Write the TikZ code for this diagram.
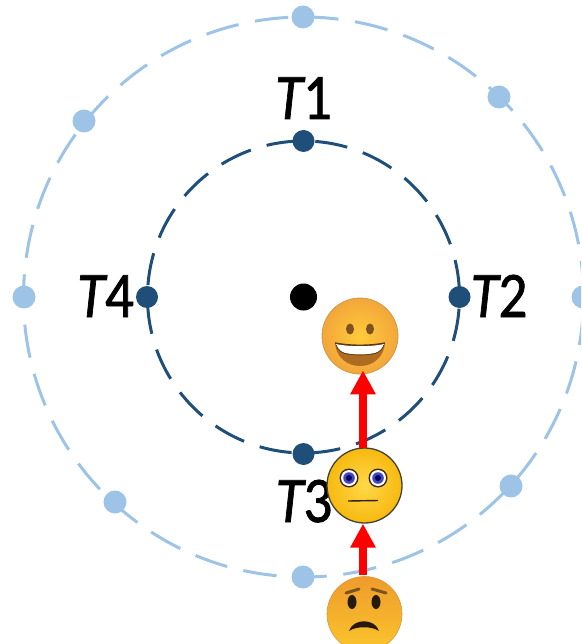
\documentclass[tikz,border=0pt]{standalone}
\usepackage{fontspec}
\setmainfont{Carlito}
\newfontface\labfont[FakeBold=1.2]{Carlito}
\newfontface\labitalic[FakeBold=1.2]{Carlito Italic}
\usetikzlibrary{arrows.meta}
\definecolor{lightring}{HTML}{9DC3E6}
\definecolor{darkring}{HTML}{1F4E79}
\definecolor{happyin}{HTML}{FFCB3A}
\definecolor{happyout}{HTML}{F2A63A}
\definecolor{neutralin}{HTML}{FFD84A}
\definecolor{neutralout}{HTML}{F7B90F}
\definecolor{sadtop}{HTML}{EE9C2C}
\definecolor{sadbot}{HTML}{FBC52C}
\definecolor{mouthbrown}{HTML}{AE6B22}
\definecolor{eyebrown}{HTML}{7E5220}
\tikzset{
  x=1pt,y=-1pt,
  outerring/.style={draw=lightring,line width=3pt,dash pattern=on 33.5pt off 16.75pt},
  innerring/.style={draw=darkring,line width=3pt,dash pattern=on 32.5pt off 16.5pt},
  lightdot/.style={circle,fill=lightring,minimum size=23pt,inner sep=0pt},
  darkdot/.style={circle,fill=darkring,minimum size=22pt,inner sep=0pt},
  centerdot/.style={circle,fill=black,minimum size=27pt,inner sep=0pt},
  lab/.style={inner sep=0pt,font=\fontsize{65}{65}\labfont,anchor=base,xscale=.88},
  happyface/.style={circle,minimum size=76pt,inner sep=0pt,draw=happyout!70!gray,line width=.8pt,inner color=happyin,outer color=happyout},
  neutralface/.style={circle,minimum size=75pt,inner sep=0pt,draw=black!85!yellow,line width=1.3pt,inner color=neutralin,outer color=neutralout},
  sadface/.style={circle,minimum size=75pt,inner sep=0pt,draw=sadtop!80!gray,line width=.6pt,top color=sadtop,bottom color=sadbot},
  redarrow/.style={draw=red,line width=8pt,-{Triangle[length=24pt,width=24pt,fill=red]}},
}
\begin{document}
\begin{tikzpicture}
\useasboundingbox (0,0) rectangle (581,644);
\clip (0,0) rectangle (581,644);
\coordinate (c) at (303.5,297);
\draw[outerring,rotate around={-3:(c)}] (c) circle (280);
\draw[innerring,rotate around={-4.4:(c)}] (c) circle (156);
\node[lightdot] (o1) at (303,17) {};
\node[lightdot] (o2) at (499,97) {};
\node[lightdot] (o3) at (583,297) {};
\node[lightdot] (o4) at (511,486) {};
\node[lightdot] (o5) at (303,577) {};
\node[lightdot] (o6) at (115,502) {};
\node[lightdot] (o7) at (24,297) {};
\node[lightdot] (o8) at (84,121) {};
\node[darkdot] (t1) at (303.5,141) {};
\node[darkdot] (t2) at (459.5,297) {};
\node[darkdot] (t3) at (303.5,454) {};
\node[darkdot] (t4) at (147,297) {};
\node[centerdot] (ctr) at (303.5,297) {};
\node[lab] (l1) at (303.5,119) {{\labitalic T}1};
\node[lab] (l2) at (499,317) {{\labitalic T}2};
\node[lab] (l3) at (304,522) {{\labitalic T}3};
\node[lab] (l4) at (105.5,317) {{\labitalic T}4};
% happy
\node[happyface] (happy) at (360,336) {};
\fill[eyebrown] (350,329) ellipse (4 and 5.5) (370,329) ellipse (4 and 5.5);
\fill[mouthbrown] (335,343) .. controls (350,346) and (370,346) .. (385,343) .. controls (384,357) and (373,366) .. (360,366) .. controls (347,366) and (336,357) .. (335,343) -- cycle;
\fill[white] (336,344) .. controls (350,347) and (370,347) .. (384,344) .. controls (382,350) and (379,352) .. (375,353) .. controls (365,355) and (355,355) .. (345,353) .. controls (341,352) and (338,350) .. (336,344) -- cycle;
\draw[eyebrown!70!black,line width=1.4pt] (335,343) .. controls (350,346) and (370,346) .. (385,343);
\draw[eyebrown!70!black,line width=.7pt] (336,345) .. controls (338,350) and (341,352) .. (345,353.5) .. controls (355,355.5) and (365,355.5) .. (375,353.5) .. controls (379,352) and (382,350) .. (384,345);
% neutral
\node[neutralface] (neutral) at (364.5,485.5) {};
\foreach \ex in {349,378}{
  \fill[black!70!brown] (\ex,478) circle (9.5);
  \fill[white] (\ex,478) circle (8);
  \fill[blue!45!gray] (\ex,478) circle (5.8);
  \fill[blue!40!black] (\ex,478) circle (3);
}
\draw[black!75!brown,line width=1.4pt] (348,501) -- (378,500.5);
% sad
\node[sadface] (sad) at (364.5,614) {};
\fill[black!80!brown] (352,602) ellipse (4.5 and 7) (376,602) ellipse (4.5 and 7);
\draw[eyebrown,line width=3pt,line cap=round] (346,593) -- (359,589) (372,589) -- (386,593);
\fill[black!80!brown] (349,631) .. controls (353,618) and (375,618) .. (379,631) .. controls (372,626) and (356,626) .. (349,631) -- cycle;
% arrows
\draw[redarrow] ([xshift=-1.5pt,yshift=1pt]sad.north) -- ([xshift=-1.5pt]neutral.south);
\draw[redarrow] ([xshift=-1.5pt,yshift=-0.5pt]neutral.north) -- ([xshift=3pt,yshift=4pt]happy.south);
\end{tikzpicture}
\end{document}
